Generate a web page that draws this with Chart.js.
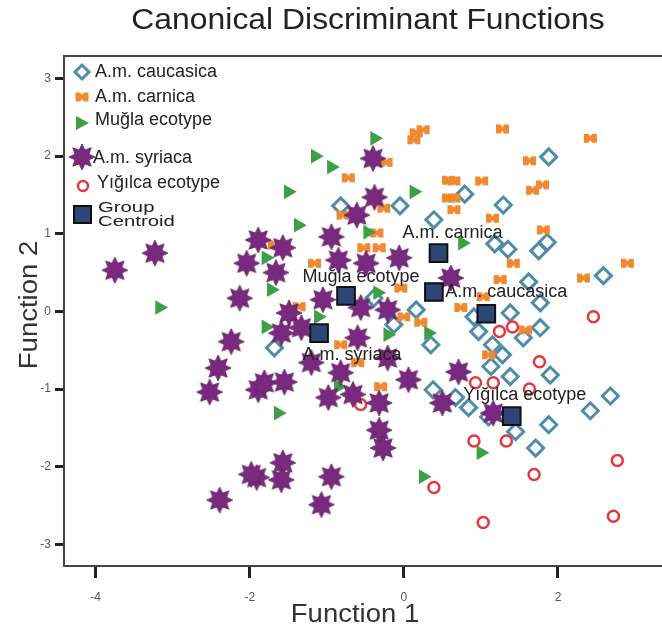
<!DOCTYPE html>
<html><head><meta charset="utf-8">
<script src="https://cdn.jsdelivr.net/npm/chart.js@4.4.1/dist/chart.umd.min.js"></script>
<style>html,body{margin:0;padding:0;background:#fff;}canvas{display:block;}</style>
</head><body>
<canvas id="c" width="662" height="630"></canvas>
<script>
// ---------- data ----------
const caucasicaX = [1.88,0.79,1.29,-0.05,-0.82,0.39,1.18,1.35,1.75,1.86,2.59,1.62,1.77,1.38,0.91,0.97,1.15,1.28,1.55,1.77,1.13,1.38,1.90,2.68,2.42,1.88,1.71,1.45,1.10,0.84,0.67,-1.68,-0.39,0.16,-0.13,0.35,0.38];
const caucasicaY = [1.99,1.51,1.37,1.36,1.36,1.18,0.87,0.80,0.78,0.89,0.46,0.38,0.11,-0.02,-0.07,-0.26,-0.43,-0.56,-0.34,-0.21,-0.71,-0.84,-0.82,-1.09,-1.28,-1.46,-1.76,-1.55,-1.36,-1.24,-1.11,-0.47,0.17,0.02,-0.17,-0.43,-1.01];

const carnicaX = [0.16,0.25,0.13,1.28,2.42,1.63,1.80,1.67,0.65,1.01,0.65,0.65,1.15,1.81,-0.72,-0.23,-0.26,-0.79,-0.35,0.58,0.58,1.42,2.90,2.33,1.25,1.03,0.74,1.58,1.10,-1.68,-1.16,-0.52,-0.32,-1.36,-0.82,-0.60,-0.30,-0.04,0.00,0.22];
const carnicaY = [2.30,2.34,2.21,2.35,2.23,1.94,1.63,1.56,1.68,1.68,1.46,1.31,1.20,1.05,1.72,1.92,1.33,1.24,1.01,1.69,1.46,0.62,0.62,0.43,0.41,0.19,0.05,-0.24,-0.56,0.86,0.62,0.82,0.82,0.06,-0.43,-0.66,-0.97,0.30,-0.07,-0.14];

const muglaX = [-0.38,-1.15,-0.94,-1.50,0.13,-1.37,-0.47,0.76,-1.79,-1.72,-1.79,-1.11,-0.34,-0.21,0.32,-3.17,-1.63,0.25,1.00,-0.85];
const muglaY = [2.23,2.00,1.86,1.54,1.54,1.11,1.02,0.88,0.69,0.28,-0.20,-0.07,0.24,-0.30,-0.28,0.05,-1.31,-2.13,-1.82,-0.97];

const syriacaX = [-3.75,-3.23,-2.04,-2.13,-2.24,-2.41,-2.52,-1.89,-1.89,-1.57,-1.66,-0.94,-0.85,-0.49,-0.06,-1.05,-1.49,-1.33,-1.59,-0.56,-0.21,-0.60,-1.20,-0.82,0.06,-0.21,-1.81,-1.55,-0.98,-0.66,-0.32,0.50,0.61,0.71,-1.91,-1.57,-1.59,-0.94,-1.07,-0.32,-0.27,-2.39,-1.98,1.16,-0.40,-0.38,-0.61];
const syriacaY = [0.53,0.75,0.62,0.17,-0.39,-0.73,-1.04,0.92,-1.01,0.82,0.50,0.96,0.66,0.62,0.69,0.15,-0.02,-0.21,-0.28,0.05,0.02,-0.34,-0.66,-0.79,-0.88,-0.60,-0.92,-0.91,-1.11,-1.07,-1.18,-1.18,0.43,-0.78,-2.14,-1.95,-2.17,-2.13,-2.49,-1.53,-1.76,-2.43,-2.10,-1.31,1.97,1.47,1.24];

const yigilcaX = [2.46,1.24,1.41,1.76,0.93,1.16,1.63,0.91,1.33,1.69,2.77,1.03,2.72,-0.56,0.39];
const yigilcaY = [-0.07,-0.26,-0.20,-0.65,-0.92,-0.92,-1.00,-1.67,-1.67,-2.10,-1.92,-2.72,-2.64,-1.20,-2.27];

const centroidX = [0.45,-0.75,0.39,1.07,-1.10,1.40];
const centroidY = [0.75,0.20,0.25,-0.03,-0.28,-1.35];
const centroidLabels = ["A.m. carnica","Muğla ecotype","","A.m. caucasica","A.m. syriaca","Yığılca ecotype"];

const legendLabels = ["A.m. caucasica","A.m. carnica","Muğla ecotype","A.m. syriaca","Yığılca ecotype","Group","Centroid"];
const xTickValues = [-4,-2,0,2];
const yTickValues = [-3,-2,-1,0,1,2,3];
const titleText = "Canonical Discriminant Functions";
const xTitle = "Function 1";
const yTitle = "Function 2";

// ---------- styles ----------
const labelOffsets = [[14,-20],[15,-19],[0,0],[20,-22],[33,22],[13,-21]];
const COL = {diam:'#4f8ca8', carn:'#f08a30', mug:'#3f9f46', syr:'#7a2a7e', yig:'#e03a3f', cen:'#2e4675'};
const FONT = '"Liberation Sans", Arial, sans-serif';

function makeStar(outer, inner, fill) {
  const s = Math.ceil(outer*2+2), c = document.createElement('canvas');
  c.width = c.height = s; const g = c.getContext('2d');
  g.translate(s/2, s/2); g.beginPath();
  for (let i = 0; i < 16; i++) {
    const r = i % 2 ? inner : outer, a = -Math.PI/2 + i*Math.PI/8;
    g.lineTo(r*Math.cos(a), r*Math.sin(a));
  }
  g.closePath(); g.fillStyle = fill; g.fill();
  g.strokeStyle = '#5e1f62'; g.lineWidth = 0.8; g.stroke();
  return c;
}
function makeBow(w, h, fill) {
  const c = document.createElement('canvas'); c.width = w+2; c.height = h+2;
  const g = c.getContext('2d'); g.translate(c.width/2, c.height/2);
  const hw = w/2, hh = h/2;
  g.beginPath();
  g.moveTo(-hw,-hh); g.lineTo(-1.8,-hh); g.lineTo(0,-hh+2.6); g.lineTo(1.8,-hh); g.lineTo(hw,-hh);
  g.lineTo(hw,hh); g.lineTo(1.8,hh); g.lineTo(0,hh-2.6); g.lineTo(-1.8,hh); g.lineTo(-hw,hh);
  g.closePath(); g.fillStyle = fill; g.fill();
  return c;
}
const starImg = makeStar(13, 7.5, COL.syr);
const bowImg = makeBow(13, 9, COL.carn);

const pts = (xs, ys) => xs.map((x, i) => ({x, y: ys[i]}));

function txt(ctx, s, x, y, size, opt = {}) {
  ctx.save();
  ctx.font = (opt.weight || '') + ' ' + size + 'px ' + (opt.family || FONT);
  ctx.fillStyle = opt.color || '#222';
  ctx.textBaseline = 'middle';
  ctx.textAlign = opt.align || 'left';
  ctx.translate(x, y);
  if (opt.rot) ctx.rotate(opt.rot);
  ctx.scale(opt.sx || 1, 1);
  ctx.fillText(s, 0, 0);
  ctx.restore();
}

const decor = {
  id: 'decor',
  beforeDraw(chart) {
    const ctx = chart.ctx; ctx.save(); ctx.fillStyle = '#fff';
    ctx.fillRect(0, 0, chart.width, chart.height); ctx.restore();
  },
  afterDraw(chart) {
    const ctx = chart.ctx, a = chart.chartArea;
    const xs = chart.scales.x, ys = chart.scales.y;
    ctx.save(); ctx.strokeStyle = '#444'; ctx.lineWidth = 2;
    ctx.beginPath(); ctx.moveTo(a.left, a.top); ctx.lineTo(a.right, a.top); ctx.stroke(); ctx.restore();
    txt(ctx, titleText, 368, 21, 29, {align: 'center', sx: 1.1, color: '#222'});
    txt(ctx, xTitle, 355, 615, 25, {align: 'center', sx: 1.1, color: '#333'});
    txt(ctx, yTitle, 30, 305, 25, {align: 'center', sx: 1.1, rot: -Math.PI/2, color: '#333'});
    centroidLabels.forEach((lab, i) => {
      if (!lab) return;
      const px = xs.getPixelForValue(centroidX[i]) + labelOffsets[i][0];
      const py = ys.getPixelForValue(centroidY[i]) + labelOffsets[i][1];
      txt(ctx, lab, px, py, 18, {align: 'center', color: '#222'});
    });
    const lx = 82;
    ctx.save();
    ctx.strokeStyle = COL.diam; ctx.lineWidth = 3;
    ctx.beginPath(); ctx.moveTo(lx-7, 72); ctx.lineTo(lx, 65); ctx.lineTo(lx+7, 72); ctx.lineTo(lx, 79); ctx.closePath(); ctx.stroke();
    ctx.drawImage(bowImg, lx - bowImg.width/2, 97 - bowImg.height/2);
    ctx.fillStyle = COL.mug; ctx.beginPath(); ctx.moveTo(lx-6, 116); ctx.lineTo(lx+7, 123); ctx.lineTo(lx-6, 130); ctx.closePath(); ctx.fill();
    ctx.drawImage(starImg, lx - starImg.width/2, 157 - starImg.height/2);
    ctx.strokeStyle = COL.yig; ctx.lineWidth = 2.5; ctx.fillStyle = '#fff';
    ctx.beginPath(); ctx.arc(lx+1, 186, 5, 0, Math.PI*2); ctx.fill(); ctx.stroke();
    ctx.fillStyle = COL.cen; ctx.strokeStyle = '#111'; ctx.lineWidth = 2;
    ctx.fillRect(lx-8, 206, 17, 17); ctx.strokeRect(lx-8, 206, 17, 17);
    ctx.restore();
    txt(ctx, legendLabels[0], 95, 72, 18);
    txt(ctx, legendLabels[1], 95, 97, 18);
    txt(ctx, legendLabels[2], 95, 120, 18);
    txt(ctx, legendLabels[3], 93, 158, 18);
    txt(ctx, legendLabels[4], 97, 183, 18);
    txt(ctx, legendLabels[5], 98, 208, 14, {sx: 1.45});
    txt(ctx, legendLabels[6], 98, 222, 14, {sx: 1.45});
  }
};

const tickFont = {family: FONT, size: 12};
new Chart(document.getElementById('c'), {
  type: 'scatter',
  data: {
    datasets: [
      {label: legendLabels[0], data: pts(caucasicaX, caucasicaY), pointStyle: 'rectRot', radius: 8, borderColor: COL.diam, backgroundColor: 'rgba(0,0,0,0)', borderWidth: 3, order: 6},
      {label: legendLabels[1], data: pts(carnicaX, carnicaY), pointStyle: bowImg, radius: 7, order: 5},
      {label: legendLabels[2], data: pts(muglaX, muglaY), pointStyle: 'triangle', rotation: 90, radius: 8.5, backgroundColor: COL.mug, borderColor: COL.mug, borderWidth: 0, order: 4},
      {label: legendLabels[4], data: pts(yigilcaX, yigilcaY), pointStyle: 'circle', radius: 5.5, borderColor: COL.yig, backgroundColor: '#fff', borderWidth: 2.5, order: 3},
      {label: legendLabels[3], data: pts(syriacaX, syriacaY), pointStyle: starImg, radius: 13, order: 2},
      {label: 'Group Centroid', data: pts(centroidX, centroidY), pointStyle: 'rect', radius: 12.5, backgroundColor: COL.cen, borderColor: '#111', borderWidth: 2, order: 1}
    ]
  },
  options: {
    responsive: false, animation: false, devicePixelRatio: 1, events: [],
    layout: {autoPadding: false, padding: {top: 56, right: 0, bottom: 0, left: 0}},
    plugins: {legend: {display: false}, tooltip: {enabled: false}, title: {display: false}},
    scales: {
      x: {
        type: 'linear', min: -4.41, max: 3.35,
        afterFit: s => { s.height = 64; s.paddingLeft = 0; s.paddingRight = 0; },
        afterBuildTicks: s => { s.ticks = xTickValues.map(v => ({value: v})); },
        grid: {drawOnChartArea: false, drawTicks: true, tickLength: 12, tickWidth: 3, tickColor: '#222'},
        border: {display: true, color: '#444', width: 2},
        ticks: {font: tickFont, color: '#555', padding: 12, maxRotation: 0, callback: v => String(v)}
      },
      y: {
        type: 'linear', min: -3.28, max: 3.29,
        afterFit: s => { s.width = 64; s.paddingTop = 0; s.paddingBottom = 0; },
        afterBuildTicks: s => { s.ticks = yTickValues.map(v => ({value: v})); },
        grid: {drawOnChartArea: false, drawTicks: true, tickLength: 9, tickWidth: 3, tickColor: '#222'},
        border: {display: true, color: '#444', width: 2},
        ticks: {font: tickFont, color: '#555', padding: 4, callback: v => String(v)}
      }
    }
  },
  plugins: [decor]
});
</script>
</body></html>
